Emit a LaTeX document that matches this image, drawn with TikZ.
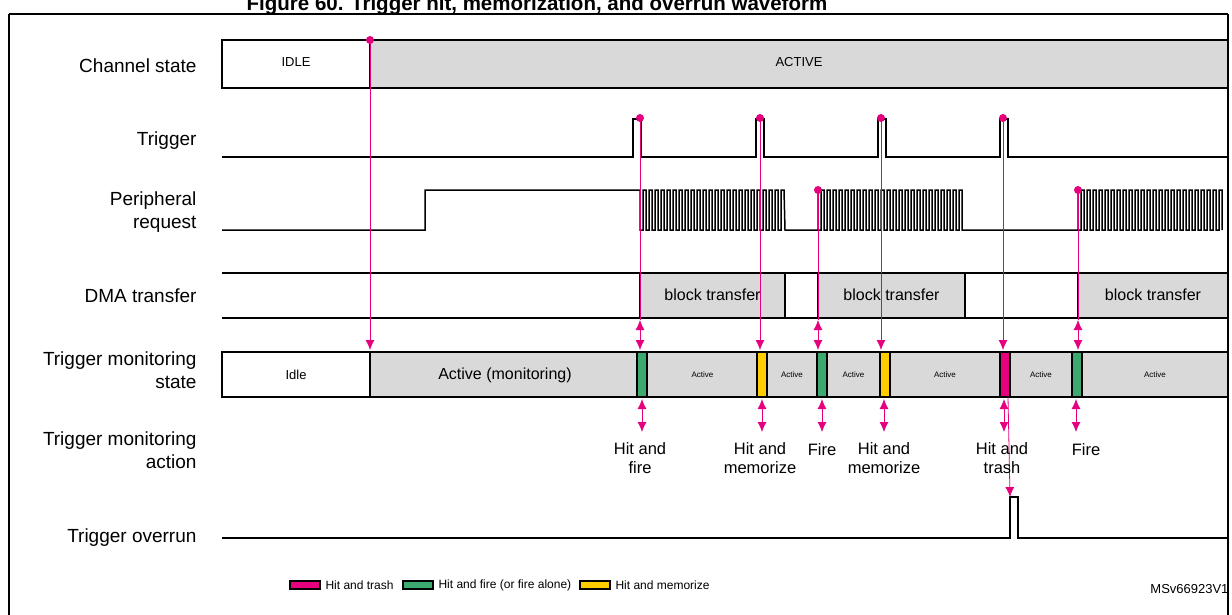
\documentclass[tikz,border=0pt]{standalone}
\usepackage{fontspec}
\setmainfont{Liberation Sans}
\usetikzlibrary{arrows.meta}
\definecolor{trashcol}{RGB}{230, 0, 126}
\definecolor{firecol}{RGB}{60, 170, 110}
\definecolor{memocol}{RGB}{255, 204, 0}
\definecolor{statefill}{RGB}{217, 217, 217}
\tikzset{
  rowlabel/.style={anchor=east, align=right, font=\fontsize{19}{23}\selectfont},
  wave/.style={line width=1.5pt, line join=miter},
  statebox/.style={draw, line width=1.6pt, fill=statefill, inner sep=0pt},
  idlebox/.style={draw, line width=1.6pt, fill=white, inner sep=0pt},
  tick/.style={draw, line width=1.2pt, inner sep=0pt},
  hitline/.style={trashcol, line width=0.8pt},
  hitarrow/.style={trashcol, line width=0.8pt, -{Latex[length=10pt,width=9pt]}},
  dblarrow/.style={trashcol, line width=0.8pt, {Latex[length=10pt,width=9pt]}-{Latex[length=10pt,width=9pt]}},
  actiontext/.style={align=center, font=\fontsize{16.5}{19}\selectfont},
  midtext/.style={font=\fontsize{16}{19}\selectfont},
  legendtext/.style={anchor=west, font=\fontsize{12}{15}\selectfont}
}
\begin{document}
\begin{tikzpicture}[x=1pt, y=-1pt]
  \useasboundingbox (0,0) rectangle (1232,614);
  \draw[line width=1.2pt] (9,14) -- (1228,14) (9,14) -- (9,620) (1228,14) -- (1228,620);
  \node[font=\bfseries\fontsize{20.5}{24}\selectfont, anchor=base] (title) at (537,10) {Figure 60. Trigger hit, memorization, and overrun waveform};

  % row labels
  \node[rowlabel] (lchan) at (200,66) {Channel state};
  \node[rowlabel] (ltrig) at (200,141) {Trigger};
  \node[rowlabel] (lperi) at (200,212) {Peripheral\\request};
  \node[rowlabel] (ldma) at (200,296) {DMA transfer};
  \node[rowlabel] (lmon) at (200,370) {Trigger monitoring\\state};
  \node[rowlabel] (lact) at (200,450) {Trigger monitoring\\action};
  \node[rowlabel] (lovr) at (200,538) {Trigger overrun};

  % channel state
  \draw[idlebox] (222,40) rectangle (370,88);
  \draw[statebox] (370,40) rectangle (1228,88);
  \node[font=\fontsize{13}{15}\selectfont] (cidle) at (296,62) {IDLE};
  \node[font=\fontsize{13}{15}\selectfont] (cact) at (799,62) {ACTIVE};

  % trigger
  \draw[wave] (222,157)
    \foreach \x in {633,756,878,1000} { -- (\x,157) -- (\x,119) -- (\x+8,119) -- (\x+8,157) }
    -- (1228,157);

  % peripheral request
  \draw[wave] (222,230) -- (425,230) -- (425,190) -- (640,190)
    \foreach \x in {640,646,...,778} { -- (\x,230) -- (\x+3,230) -- (\x+3,190) -- (\x+6,190) }
    -- (785,230) -- (818,230) -- (818,190)
    \foreach \x in {818,824,...,956} { -- (\x,230) -- (\x+3,230) -- (\x+3,190) -- (\x+6,190) }
    -- (962,230) -- (1078,230) -- (1078,190)
    \foreach \x in {1078,1084,...,1216} { -- (\x,230) -- (\x+3,230) -- (\x+3,190) -- (\x+6,190) }
    -- (1222,230);

  % DMA transfer
  \draw[wave] (222,273) -- (1228,273) (222,318) -- (1228,318);
  \foreach \a/\b/\n in {640/785/dmaa, 818/965/dmab, 1078/1228/dmac} {
    \draw[statebox] (\a,273) rectangle (\b,318);
    \node[midtext] (\n) at ({(\a+\b)/2},295) {block transfer};
  }

  % trigger monitoring state
  \draw[idlebox] (222,352) rectangle (370,397);
  \node[font=\fontsize{13}{15}\selectfont] (midle) at (296,375) {Idle};
  \draw[statebox] (370,352) rectangle (1228,397);
  \node[midtext] (mmon) at (505,375) {Active (monitoring)};
  \foreach \a/\b/\n in {648/757/ma, 767/817/mb, 827/880/mc, 890/1000/md, 1010/1072/me, 1082/1228/mf}
    \node[font=\fontsize{8}{10}\selectfont] (\n) at ({(\a+\b)/2},375) {Active};
  \foreach \x/\c in {637/firecol, 757/memocol, 817/firecol, 880/memocol, 1000/trashcol, 1072/firecol}
    \draw[tick, fill=\c] (\x,352) rectangle (\x+10,397);

  % trigger overrun
  \draw[wave] (222,538) -- (1010,538) -- (1010,497) -- (1018,497) -- (1018,538) -- (1228,538);

  % hit markers
  \coordinate (c0) at (370,40);
  \coordinate (t1) at (640,118);
  \coordinate (t2) at (760,118);
  \coordinate (t3) at (881,118);
  \coordinate (t4) at (1003,118);
  \coordinate (p1) at (818,190);
  \coordinate (p2) at (1078,190);
  \foreach \c in {c0,t1,t2,t3,t4,p1,p2} \fill[trashcol] (\c) circle (4pt);
  \draw[hitarrow] (c0) -- (370,350);
  \draw[hitline] (t1) -- (640,320);
  \foreach \c in {t2,t3,t4} \draw[hitarrow] (\c) -- (\c |- 0,350);
  \foreach \c in {p1,p2} \draw[hitline] (\c) -- (\c |- 0,320);
  \foreach \x in {640,818,1078} \draw[dblarrow] (\x,320) -- (\x,350);
  \foreach \x in {642,762,822,884,1004,1076} \draw[dblarrow] (\x,399) -- (\x,432);
  \draw[hitarrow] (1008,397) -- (1010,497);

  % actions
  \node[actiontext] (a1) at (640,458) {Hit and\\fire};
  \node[actiontext] (a2) at (760,458) {Hit and\\memorize};
  \node[actiontext] (a3) at (822,450) {Fire};
  \node[actiontext] (a4) at (884,458) {Hit and\\memorize};
  \node[actiontext] (a5) at (1002,458) {Hit and\\trash};
  \node[actiontext] (a6) at (1086,450) {Fire};

  % legend
  \foreach \x/\c/\t/\n in {290/trashcol/Hit and trash/lga, 403/firecol/Hit and fire (or fire alone)/lgb, 580/memocol/Hit and memorize/lgc} {
    \draw[tick, fill=\c] (\x,581) rectangle (\x+30,589);
    \node[legendtext] (\n) at (\x+32,585) {\t};
  }
  \node[anchor=east, font=\fontsize{13}{15}\selectfont] (ref) at (1232,589) {MSv66923V1};
\end{tikzpicture}
\end{document}
